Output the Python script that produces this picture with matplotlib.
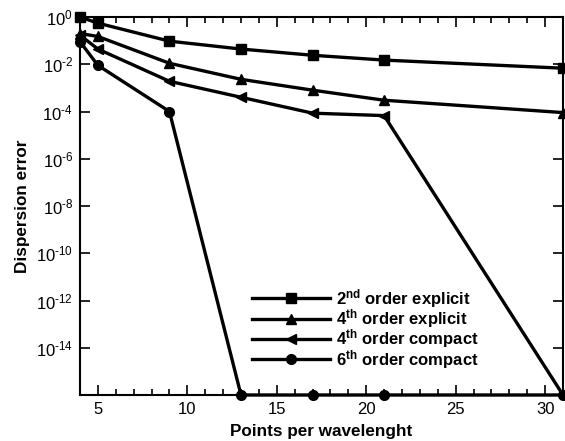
import matplotlib
matplotlib.use("Agg")
import matplotlib.pyplot as plt
from matplotlib.ticker import MultipleLocator, FixedLocator, NullLocator

plt.rcParams['font.family'] = ['Liberation Sans', 'DejaVu Sans']
plt.rcParams['mathtext.fontset'] = 'custom'
plt.rcParams['mathtext.rm'] = 'Liberation Sans'
plt.rcParams['mathtext.bf'] = 'Liberation Sans:bold'
plt.rcParams['mathtext.it'] = 'Liberation Sans:italic'

ppw = [4, 5, 9, 13, 17, 21, 31]
explicit2 = [1.0, 0.55, 0.095, 0.044, 0.024, 0.015, 0.0068]
explicit4 = [0.2, 0.15, 0.011, 0.0023, 0.0008, 0.0003, 9e-5]
compact4 = [0.17, 0.044, 0.0019, 0.0004, 8.5e-5, 6.7e-5, 1e-16]
compact6 = [0.09, 0.009, 1e-4, 1e-16, 1e-16, 1e-16, 1e-16]

labels = [r'2$^{\mathbf{nd}}$ order explicit', r'4$^{\mathbf{th}}$ order explicit',
          r'4$^{\mathbf{th}}$ order compact', r'6$^{\mathbf{th}}$ order compact']
ytick_exp = [0, -2, -4, -6, -8, -10, -12, -14]

fig = plt.figure(figsize=(5.65, 4.41), dpi=100)
ax = fig.add_axes([80/565, 46/441, 483/565, 378/441])

series = [explicit2, explicit4, compact4, compact6]
markers = ['s', '^', '<', 'o']
for ys, m, lab in zip(series, markers, labels):
    ax.plot(ppw, ys, color='black', lw=2.4, marker=m, ms=7, label=lab, clip_on=False, zorder=3)

ax.set_yscale('log')
ax.set_xlim(4, 31)
ax.set_ylim(1e-16, 1)
ax.xaxis.set_major_locator(MultipleLocator(5))
ax.xaxis.set_minor_locator(MultipleLocator(1))
ax.yaxis.set_major_locator(FixedLocator([10.0**e for e in ytick_exp]))
def ylab(e):
    if e == 0:
        return r'$\mathregular{10^{0}}$'
    return r'$\mathregular{10^{\text{-}%d}}$' % (-e)
ax.set_yticklabels([ylab(e) for e in ytick_exp])
ax.yaxis.set_minor_locator(NullLocator())
ax.tick_params(which='both', direction='in', top=True, right=True, labelsize=12, width=1.2)
ax.tick_params(which='major', length=7, pad=5)
ax.tick_params(which='minor', length=4)
for s in ax.spines.values():
    s.set_linewidth(1.5)

ax.set_xlabel('Points per wavelenght', fontsize=12.3, fontweight='bold', labelpad=5)
ax.set_ylabel('Dispersion error', fontsize=12.3, fontweight='bold', labelpad=4)

leg = ax.legend(loc='upper left', bbox_to_anchor=(0.338, 0.3085), frameon=False,
                handlelength=4.7, handletextpad=0.35, labelspacing=-0.15, borderpad=0,
                prop={'weight': 'bold', 'size': 12})

fig.savefig('out.png', dpi=100)
